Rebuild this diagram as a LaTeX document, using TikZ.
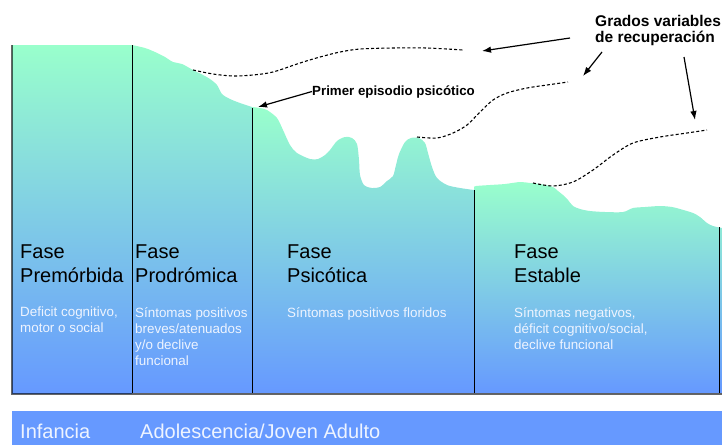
\documentclass[tikz,border=0pt]{standalone}
\usepackage{fontspec}
\setmainfont{Liberation Sans}
\usetikzlibrary{arrows.meta}
\definecolor{fillgreen}{HTML}{99FFCC}
\definecolor{fillblue}{HTML}{6699FF}
\definecolor{barblue}{HTML}{6699FF}
\definecolor{desctext}{HTML}{EEF4FF}

\begin{document}
\begin{tikzpicture}[x=1pt, y=-1pt,
    colfill/.style={top color=fillgreen, bottom color=fillblue},
    divider/.style={line width=0.9pt, draw=black},
    axisline/.style={line width=2pt, draw=black, draw opacity=0.6},
    phase/.style={anchor=north west, inner sep=0pt, align=left,
        font=\fontsize{20}{24}\selectfont},
    desc/.style={anchor=north west, inner sep=0pt, align=left,
        text=desctext, font=\fontsize{13.4}{16}\selectfont},
    agelabel/.style={anchor=base west, inner sep=0pt, text=desctext,
        font=\fontsize{20}{24}\selectfont},
    callout/.style={inner sep=0pt, align=left,
        font=\bfseries\fontsize{#1}{16}\selectfont},
    arr/.style={-{Latex[length=9pt,width=6.5pt]}, line width=1.2pt},
    recov/.style={dash pattern=on 3pt off 2.2pt, line width=1.1pt},
]
\useasboundingbox (0,0) rectangle (722,445);

% Phase columns, each with its own green-to-blue fill
\shade[colfill] (12,45) rectangle (132,393);
\shade[colfill] (132,393) -- plot[smooth, tension=0.5] coordinates {
    (132,45) (145,48) (155,52) (165,57) (173,62) (182,64) (193,70)
    (203,75) (210,79) (217,85) (222,94) (230,99) (240,103) (252,107)}
    -- (252,393) -- cycle;
\shade[colfill] (252,393) -- plot[smooth, tension=0.5] coordinates {
    (252,107) (260,108) (267,110) (277,118) (283,130) (290,145) (297,153)
    (310,159) (318,159) (325,155) (330,150) (337,141) (345,137) (352,138)
    (357,144) (359,160) (360,175) (364,185) (372,188) (380,187) (387,181)
    (393,176) (396,165) (399,154) (405,142) (411,138) (419,138) (425,143)
    (428,153) (432,167) (437,178) (447,185) (460,188) (474,190)}
    -- (474,393) -- cycle;
\shade[colfill] (474,393) -- plot[smooth, tension=0.5] coordinates {
    (474,187) (476,186) (490,185) (505,184) (520,182) (530,183) (540,184)
    (553,187) (558,191) (563,195) (568,200) (573,206) (580,209) (590,211)
    (605,212) (623,212) (633,208) (645,207) (660,206) (672,207) (680,209)
    (693,213) (700,217) (707,223) (713,226) (722,228)}
    -- (722,393) -- cycle;

% Dividers and axes
\draw[divider] (132,45) -- (132,393);
\draw[divider] (252,108) -- (252,393);
\draw[divider] (474,190) -- (474,393);
\draw[divider] (719,227) -- (719,393);
\draw[axisline] (12,45) -- (12,394) -- (722,394);

% Recovery paths
\draw[recov] plot[smooth] coordinates {
    (193,70) (213,74) (233,76) (253,75) (273,72) (300,63) (320,57)
    (340,52) (360,49) (393,48) (427,48) (463,50)};
\draw[recov] plot[smooth] coordinates {
    (417,137) (437,138) (453,133) (467,125) (480,112) (493,100)
    (507,93) (527,88) (547,85) (568,82)};
\draw[recov] plot[smooth] coordinates {
    (533,183) (553,186) (573,182) (593,170) (613,155) (633,143)
    (660,137) (687,133) (707,130)};

% Phase labels
\node[phase] (premorb) at (20,245) {Fase\\Premórbida};
\node[phase] (prodrom) at (135,245) {Fase\\Prodrómica};
\node[phase] (psicot) at (287,245) {Fase\\Psicótica};
\node[phase] (estable) at (514,245) {Fase\\Estable};

\node[desc] (premorbtxt) at (20,307) {Deficit cognitivo,\\motor o social};
\node[desc] (prodromtxt) at (135,307)
    {Síntomas positivos\\breves/atenuados\\y/o declive\\funcional};
\node[desc] (psicottxt) at (287,307) {Síntomas positivos floridos};
\node[desc] (establetxt) at (514,307)
    {Síntomas negativos,\\déficit cognitivo/social,\\declive funcional};

% Age bar
\fill[barblue] (12,411) rectangle (722,445);
\node[agelabel] (infancia) at (20,438) {Infancia};
\node[agelabel] (adolesc) at (140,438) {Adolescencia/Joven Adulto};

% Callouts
\node[callout=13.3, anchor=base west] (primer) at (312,95)
    {Primer episodio psicótico};
\coordinate (onset) at (258,107);
\draw[arr] (primer.west) -- (onset);

\node[callout=15.5, anchor=north west] (grados) at (595,15)
    {Grados variables\\de recuperación};
\coordinate (gr1s) at (570,38);
\coordinate (gr1e) at (482,51);
\coordinate (gr2s) at (602,52);
\coordinate (gr2e) at (583,76);
\coordinate (gr3s) at (684,57);
\coordinate (gr3e) at (695,120);
\draw[arr] (gr1s) -- (gr1e);
\draw[arr] (gr2s) -- (gr2e);
\draw[arr] (gr3s) -- (gr3e);

\end{tikzpicture}
\end{document}
